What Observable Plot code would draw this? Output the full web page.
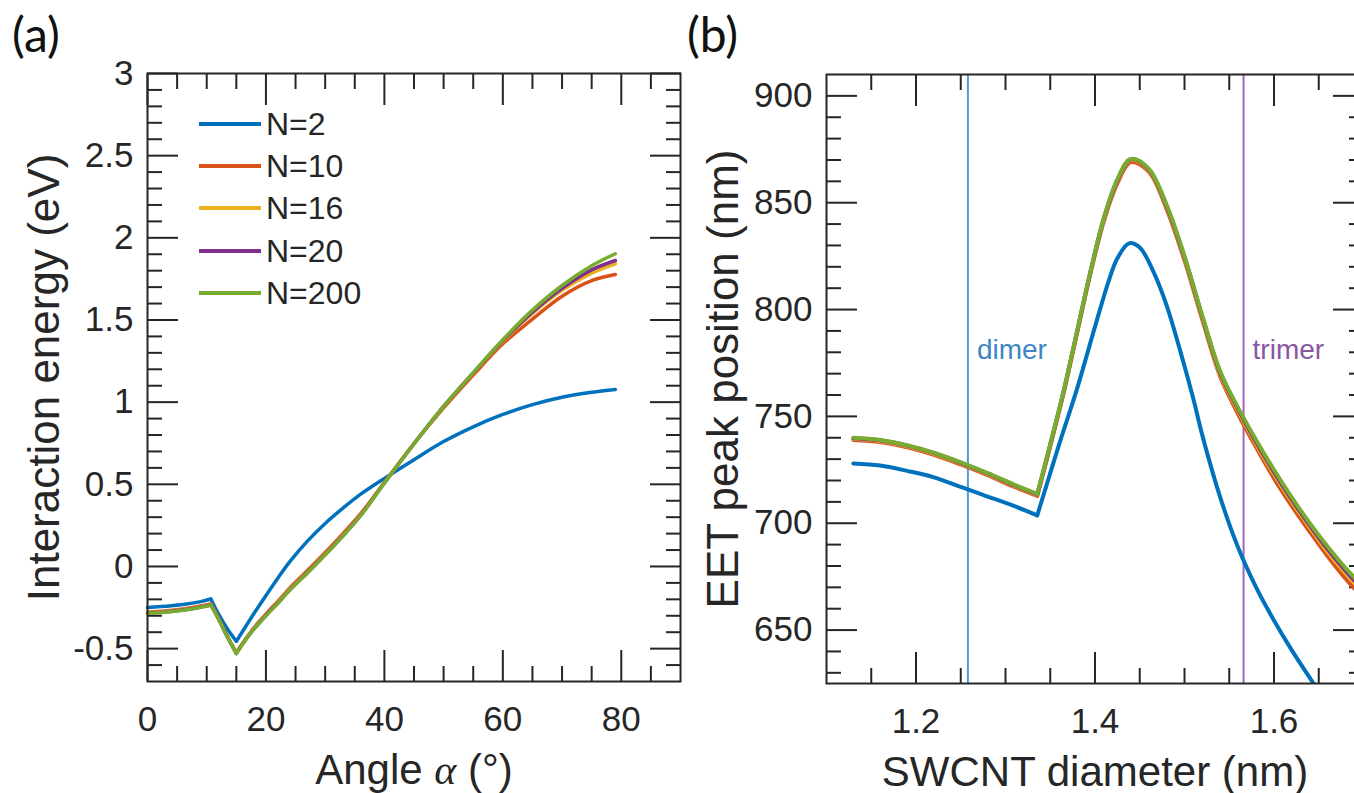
<!DOCTYPE html>
<html>
<head>
<meta charset="utf-8">
<script src="https://cdn.jsdelivr.net/npm/d3@7"></script>
<script src="https://cdn.jsdelivr.net/npm/@observablehq/plot@0.6"></script>
<style>
  html, body { margin: 0; padding: 0; background: #fff; width: 1354px; height: 793px; overflow: hidden; }
  #root { position: relative; width: 1354px; height: 793px; overflow: hidden; background: #fff;
          font-family: "Liberation Sans", Arial, Helvetica, sans-serif; color: #262626; }
  .panel { position: absolute; top: 0; }
  .plabel { position: absolute; font-family: Lato, "Open Sans", sans-serif; font-size: 48px; line-height: 1; color: #111; }
  .legrow { position: absolute; height: 0; }
  .legline { position: absolute; height: 4px; top: -2px; }
  .legtext { position: absolute; font-size: 32px; line-height: 32px; top: -16px; white-space: nowrap; color: #262626; }
</style>
</head>
<body>
<div id="root"></div>
<script>
// ---------------- data ----------------
const seriesNames  = ["N=2", "N=10", "N=16", "N=20", "N=200"];
const seriesColors = ["#0072BD", "#D95319", "#EDB120", "#7E2F8E", "#77AC30"];

// Panel (a): interaction energy (eV) vs angle alpha (deg)
const angleGrid = [0, 3, 6, 9, 10.7, 12, 13.5, 15, 16.5, 18, 20, 22, 24, 27, 30, 33, 36, 40, 45, 50, 55, 60, 65, 70, 75, 79];
const angleKinks = [10.7, 15];
const energyN2   = [-0.25, -0.242, -0.232, -0.214, -0.198, -0.29, -0.38, -0.455, -0.37, -0.285, -0.177, -0.071, 0.028, 0.154, 0.262, 0.355, 0.44, 0.536, 0.65, 0.76, 0.85, 0.925, 0.985, 1.03, 1.06, 1.077];
const energyN10  = [-0.278, -0.271, -0.259, -0.241, -0.228, -0.315, -0.425, -0.525, -0.445, -0.372, -0.29, -0.212, -0.132, -0.025, 0.085, 0.2, 0.322, 0.512, 0.748, 0.965, 1.165, 1.355, 1.505, 1.645, 1.74, 1.777];
const energyN16  = [-0.282, -0.275, -0.263, -0.245, -0.232, -0.318, -0.428, -0.528, -0.448, -0.377, -0.296, -0.22, -0.14, -0.035, 0.075, 0.19, 0.313, 0.509, 0.748, 0.972, 1.175, 1.37, 1.54, 1.68, 1.785, 1.842];
const energyN20  = [-0.284, -0.277, -0.265, -0.247, -0.234, -0.319, -0.429, -0.529, -0.449, -0.379, -0.298, -0.223, -0.143, -0.038, 0.072, 0.187, 0.311, 0.508, 0.747, 0.974, 1.178, 1.375, 1.548, 1.693, 1.805, 1.862];
const energyN200 = [-0.285, -0.278, -0.266, -0.248, -0.235, -0.32, -0.43, -0.53, -0.45, -0.38, -0.30, -0.225, -0.145, -0.04, 0.07, 0.185, 0.31, 0.508, 0.747, 0.975, 1.18, 1.38, 1.56, 1.71, 1.83, 1.903];

const angleMajorTicks = [0, 20, 40, 60, 80];
const angleMinorTicks = [5, 10, 15, 25, 30, 35, 45, 50, 55, 65, 70, 75, 85];
const energyMajorTicks = [-0.5, 0, 0.5, 1, 1.5, 2, 2.5, 3];
const energyMinorTicks = [-0.6, -0.4, -0.3, -0.2, -0.1, 0.1, 0.2, 0.3, 0.4, 0.6, 0.7, 0.8, 0.9, 1.1, 1.2, 1.3, 1.4, 1.6, 1.7, 1.8, 1.9, 2.1, 2.2, 2.3, 2.4, 2.6, 2.7, 2.8, 2.9];
const angleDomain = [0, 90];
const energyDomain = [-0.7, 3];
const xTitleA = "Angle α (°)";
const yTitleA = "Interaction energy (eV)";

// Panel (b): EET peak position (nm) vs SWCNT diameter (nm)
const diamKinks  = [1.3355];
const diamGridN2 = [1.13, 1.16, 1.19, 1.22, 1.25, 1.28, 1.31, 1.3355, 1.36, 1.38, 1.40, 1.415, 1.425, 1.438, 1.45, 1.465, 1.48, 1.495, 1.51, 1.52, 1.54, 1.56, 1.58, 1.60, 1.62, 1.645];
const peakN2     = [728, 727, 724.5, 721.5, 717, 712.5, 708, 703.7, 737, 763, 792, 813, 824, 831, 829, 818, 802, 781, 758, 741, 712, 688.5, 670, 654.5, 640.5, 624.5];
const diamGrid   = [1.13, 1.16, 1.19, 1.22, 1.25, 1.28, 1.31, 1.3355, 1.35, 1.365, 1.38, 1.395, 1.41, 1.425, 1.44, 1.46, 1.48, 1.50, 1.52, 1.54, 1.56, 1.58, 1.60, 1.62, 1.64, 1.66, 1.68, 1.70];
const peakN10    = [739, 738, 735.5, 732, 727.5, 722.5, 717, 712.8, 736, 761, 789, 817, 841.5, 859, 869, 864.5, 847, 823, 795, 768.5, 751, 735.5, 721, 708, 696, 684.5, 674, 665];
const peakN16    = [739.5, 738.5, 736, 732.5, 728, 723, 717.5, 713.3, 736.5, 761.5, 789.5, 817.5, 842.5, 860, 870, 865.3, 848, 824, 796, 769.5, 752.5, 737, 723, 710, 698, 686.5, 676.5, 667.5];
const peakN20    = [739.8, 738.8, 736.3, 732.8, 728.3, 723.3, 717.8, 713.5, 736.8, 761.8, 789.8, 817.8, 842.8, 860.5, 870.3, 865.6, 848.5, 824.5, 796.5, 770.3, 753.3, 738, 724, 711, 699, 687.8, 677.8, 668.5];
const peakN200   = [740, 739, 736.5, 733, 728.5, 723.5, 718, 713.7, 737, 762, 790, 818, 843, 861, 870.5, 866, 849, 825, 797, 771, 754, 739, 725, 712, 700, 689, 679, 670];

const diamMajorTicks = [1.2, 1.4, 1.6];
const diamMinorTicks = [1.15, 1.25, 1.3, 1.35, 1.45, 1.5, 1.55, 1.65];
const peakMajorTicks = [650, 700, 750, 800, 850, 900];
const peakMinorTicks = [630, 640, 660, 670, 680, 690, 710, 720, 730, 740, 760, 770, 780, 790, 810, 820, 830, 840, 860, 870, 880, 890];
const diamDomain = [1.1, 1.7];
const peakDomain = [625, 910];
const xTitleB = "SWCNT diameter (nm)";
const yTitleB = "EET peak position (nm)";

const markerLabels = ["dimer", "trimer"];
const markerDiam   = [1.258, 1.566];
const markerColors = ["#4a9fd8", "#a067b8"];
const markerTextColors = ["#3f86c4", "#8a55a2"];
const markerLevel  = 781;

const panelLabels = ["(a)", "(b)"];

// ---------------- helpers ----------------
const ink = "#262626";
const FONT = '"Liberation Sans", Arial, Helvetica, sans-serif';

// split a series into smooth pieces at the kinks (shared end points)
function segRows(xs, ys, kinks) {
  const rows = [];
  xs.forEach((x, i) => {
    const s = kinks.filter(k => x > k).length;
    rows.push({x, y: ys[i], s});
    if (kinks.includes(x)) rows.push({x, y: ys[i], s: s + 1});
  });
  return rows;
}

function frameTicks(xMajor, xMinor, yMajor, yMinor, xFmt, yFmt) {
  const st = {stroke: ink, strokeWidth: 2, label: null};
  const blank = () => "";
  return [
    Plot.axisX({...st, ticks: xMajor, anchor: "bottom", tickSize: -31, tickPadding: 56, tickFormat: xFmt, fontSize: 35, fill: ink}),
    Plot.axisX({...st, ticks: xMinor, anchor: "bottom", tickSize: -15, tickFormat: blank}),
    Plot.axisX({...st, ticks: xMajor, anchor: "top", tickSize: -31, tickFormat: blank}),
    Plot.axisX({...st, ticks: xMinor, anchor: "top", tickSize: -15, tickFormat: blank}),
    Plot.axisY({...st, ticks: yMajor, anchor: "left", tickSize: -31, tickPadding: 45, tickFormat: yFmt, fontSize: 35, fill: ink}),
    Plot.axisY({...st, ticks: yMinor, anchor: "left", tickSize: -15, tickFormat: blank}),
    Plot.axisY({...st, ticks: yMajor, anchor: "right", tickSize: -31, tickFormat: blank}),
    Plot.axisY({...st, ticks: yMinor, anchor: "right", tickSize: -15, tickFormat: blank})
  ];
}

function titles(xTitle, yTitle) {
  return [
    Plot.text([xTitle], {text: d => d, frameAnchor: "bottom", dy: 102, lineAnchor: "bottom", textAnchor: "middle", fontSize: 42, fill: ink}),
    Plot.text([yTitle], {text: d => d, frameAnchor: "left", dx: -89, rotate: -90, lineAnchor: "bottom", textAnchor: "middle", fontSize: 44, fill: ink})
  ];
}

const styleObj = {fontFamily: FONT, fontSize: "35px", color: ink, background: "transparent", overflow: "visible"};

// ---------------- panel (a) ----------------
const seriesA = [energyN2, energyN10, energyN16, energyN20, energyN200];
const plotA = Plot.plot({
  width: 700, height: 793,
  marginLeft: 147, marginRight: 20, marginTop: 73, marginBottom: 112,
  x: {domain: angleDomain}, y: {domain: energyDomain},
  style: styleObj,
  marks: [
    ...frameTicks(angleMajorTicks, angleMinorTicks, energyMajorTicks, energyMinorTicks, d => String(d), d => String(d)),
    ...seriesA.map((ys, k) => Plot.line(segRows(angleGrid, ys, angleKinks), {x: "x", y: "y", z: "s", stroke: seriesColors[k], strokeWidth: 3.5, curve: "catmull-rom"})),
    Plot.frame({stroke: ink, strokeWidth: 2}),
    ...titles(xTitleA, yTitleA)
  ]
});

// ---------------- panel (b) ----------------
const seriesB = [[diamGridN2, peakN2], [diamGrid, peakN10], [diamGrid, peakN16], [diamGrid, peakN20], [diamGrid, peakN200]];
const markerRows = markerLabels.map((t, i) => ({t, x: markerDiam[i], c: markerColors[i], tc: markerTextColors[i]}));
const plotB = Plot.plot({
  width: 700, height: 793,
  marginLeft: 146, marginRight: 17, marginTop: 74, marginBottom: 110,
  x: {domain: diamDomain}, y: {domain: peakDomain},
  style: styleObj,
  marks: [
    ...frameTicks(diamMajorTicks, diamMinorTicks, peakMajorTicks, peakMinorTicks, d => d.toFixed(1), d => String(d)),
    Plot.ruleX(markerRows, {x: "x", stroke: "c", strokeWidth: 2}),
    ...seriesB.map(([xs, ys], k) => Plot.line(segRows(xs, ys, diamKinks), {x: "x", y: "y", z: "s", stroke: seriesColors[k], strokeWidth: 4, curve: "catmull-rom", clip: true})),
    Plot.text(markerRows, {x: "x", y: () => markerLevel, text: "t", fill: "tc", dx: 9, textAnchor: "start", fontSize: 28}),
    Plot.frame({stroke: ink, strokeWidth: 2}),
    ...titles(xTitleB, yTitleB)
  ]
});

// italic alpha in the x title
function italicAlpha(svg) {
  svg.querySelectorAll("text").forEach(t => {
    if (t.children.length === 0 && t.textContent.includes("α")) {
      const parts = t.textContent.split("α");
      t.textContent = "";
      t.append(parts[0]);
      const ts = document.createElementNS("http://www.w3.org/2000/svg", "tspan");
      ts.setAttribute("font-family", "'Liberation Serif', 'DejaVu Serif', serif");
      ts.setAttribute("font-style", "italic");
      ts.textContent = "α";
      t.append(ts);
      t.append(parts[1]);
    }
  });
}
italicAlpha(plotA);

const root = document.getElementById("root");
plotA.classList.add("panel"); plotA.style.left = "0px";
plotB.classList.add("panel"); plotB.style.left = "680px";
root.appendChild(plotA);
root.appendChild(plotB);

// panel letters
[[panelLabels[0], 12, 10], [panelLabels[1], 687, 10]].forEach(([t, l, tp]) => {
  const d = document.createElement("div");
  d.className = "plabel"; d.textContent = t;
  d.style.left = l + "px"; d.style.top = tp + "px";
  root.appendChild(d);
});

// legend for panel (a)
seriesNames.forEach((name, i) => {
  const row = document.createElement("div");
  row.className = "legrow";
  row.style.left = "0px"; row.style.top = (124 + i * 42.2) + "px";
  const ln = document.createElement("div");
  ln.className = "legline"; ln.style.left = "199px"; ln.style.width = "62px"; ln.style.background = seriesColors[i];
  const tx = document.createElement("div");
  tx.className = "legtext"; tx.style.left = "266px"; tx.textContent = name;
  row.appendChild(ln); row.appendChild(tx);
  root.appendChild(row);
});
</script>
</body>
</html>
